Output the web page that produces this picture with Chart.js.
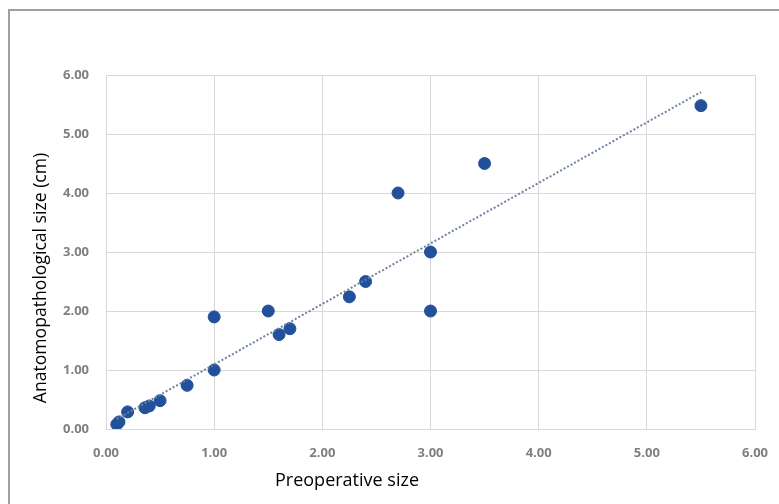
<!DOCTYPE html>
<html>
<head>
<meta charset="utf-8">
<script src="https://cdn.jsdelivr.net/npm/chart.js@4"></script>
<style>
  html, body { margin: 0; padding: 0; background: #fff; overflow: hidden; }
  #wrap { position: relative; width: 779px; height: 504px; }
  #frame { position: absolute; left: 8px; top: 9px; width: 800px; height: 520px;
           border-top: 2px solid #a0a0a0; border-left: 2px solid #a0a0a0; }
  canvas { position: absolute; left: 0; top: 0; }
</style>
</head>
<body>
<div id="wrap">
  <div id="frame"></div>
  <canvas id="grafica" width="779" height="504"></canvas>
</div>
<script>
// preoperative size (x) vs anatomopathological size (y), cm
const preoperative = [0.10, 0.12, 0.20, 0.36, 0.40, 0.50, 0.75, 1.00, 1.00, 1.50, 1.60, 1.70, 2.25, 2.40, 2.70, 3.00, 3.00, 3.50, 5.50];
const anatomopathological = [0.08, 0.12, 0.29, 0.36, 0.39, 0.48, 0.74, 1.00, 1.90, 2.00, 1.60, 1.70, 2.24, 2.50, 4.00, 3.00, 2.00, 4.50, 5.48];
// trendline end points
const trendX = [0.10, 5.50];
const trendY = [0.17, 5.71];

const xTitle = "Preoperative size";
const yTitle = "Anatomopathological size (cm)";

const puntos = preoperative.map((x, i) => ({ x: x, y: anatomopathological[i] }));
const tendencia = trendX.map((x, i) => ({ x: x, y: trendY[i] }));

const tickFont = { family: "Open Sans", size: 13, weight: "bold" };

// both axis titles sit off-centre in the original, so draw them by hand
const axisTitles = {
  id: "axisTitles",
  afterDraw(chart) {
    const ctx = chart.ctx;
    ctx.save();
    ctx.font = "18px 'Open Sans'";
    ctx.fillStyle = "#000";
    ctx.textAlign = "center";
    ctx.textBaseline = "middle";
    ctx.fillText(xTitle, 347, 481);
    ctx.translate(41, 278);
    ctx.rotate(-Math.PI / 2);
    ctx.font = "17.6px 'Open Sans'";
    ctx.fillText(yTitle, 0, 0);
    ctx.restore();
  }
};

new Chart(document.getElementById("grafica").getContext("2d"), {
  type: "scatter",
  data: {
    datasets: [
      {
        label: "Trend",
        type: "line",
        data: tendencia,
        borderColor: "#6f83a0",
        borderWidth: 2,
        borderDash: [2, 2],
        pointRadius: 0,
        fill: false
      },
      {
        label: "Size",
        data: puntos,
        backgroundColor: "#23509a",
        borderColor: "#23509a",
        pointRadius: 6,
        pointHoverRadius: 6
      }
    ]
  },
  options: {
    responsive: false,
    animation: false,
    layout: { padding: { top: 75, right: 24, bottom: 0, left: 0 } },
    plugins: { legend: { display: false }, tooltip: { enabled: false } },
    scales: {
      x: {
        type: "linear",
        min: 0,
        max: 6,
        ticks: { stepSize: 1, color: "#7f7f7f", font: tickFont, padding: 16,
                 callback: v => v.toFixed(2) },
        grid: { color: "#d9d9d9", drawTicks: false },
        border: { color: "#d9d9d9" },
        afterFit: s => { s.height = 75; s.paddingRight = 0; s.paddingLeft = 0; }
      },
      y: {
        min: 0,
        max: 6,
        ticks: { stepSize: 1, color: "#7f7f7f", font: tickFont, padding: 17,
                 callback: v => v.toFixed(2) },
        grid: { color: "#d9d9d9", drawTicks: false },
        border: { color: "#d9d9d9" },
        afterFit: s => { s.width = 106; s.paddingTop = 0; s.paddingBottom = 0; }
      }
    }
  },
  plugins: [axisTitles]
});
</script>
</body>
</html>
